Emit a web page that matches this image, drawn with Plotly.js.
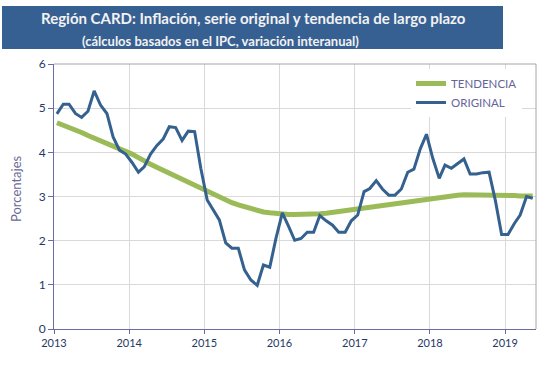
<!DOCTYPE html>
<html>
<head>
<meta charset="utf-8">
<script src="https://cdn.plot.ly/plotly-3.0.1.min.js"></script>
<style>
html,body{margin:0;padding:0;background:#fff;}
#chart{width:558px;height:371px;}
</style>
</head>
<body>
<div id="chart"></div>
<script>
// Monthly data, Jan 2013 .. May 2019
var startYear = 2013;
var original = [
  4.87, 5.09, 5.09, 4.88, 4.79, 4.93, 5.39, 5.07, 4.88, 4.35, 4.05, 3.96,
  3.77, 3.55, 3.67, 3.96, 4.15, 4.30, 4.58, 4.56, 4.27, 4.48, 4.47, 3.64,
  2.92, 2.69, 2.47, 1.95, 1.83, 1.83, 1.34, 1.11, 0.99, 1.45, 1.40, 2.05,
  2.63, 2.32, 2.01, 2.05, 2.19, 2.19, 2.57, 2.45, 2.35, 2.19, 2.19, 2.45,
  2.58, 3.11, 3.18, 3.36, 3.17, 3.03, 3.03, 3.17, 3.55, 3.62, 4.08, 4.41,
  3.86, 3.41, 3.71, 3.64, 3.75, 3.85, 3.51, 3.51, 3.54, 3.55, 2.90, 2.14,
  2.14, 2.39, 2.58, 3.00, 2.96
];
var tendencia = [
  4.67, 4.62, 4.57, 4.52, 4.45, 4.38, 4.32, 4.27, 4.22, 4.15, 4.09, 4.02,
  3.96, 3.88, 3.80, 3.73, 3.66, 3.59, 3.52, 3.45, 3.38, 3.31, 3.24, 3.17,
  3.10, 3.03, 2.97, 2.91, 2.86, 2.81, 2.77, 2.72, 2.68, 2.65, 2.63, 2.61,
  2.60, 2.59, 2.59, 2.59, 2.59, 2.60, 2.61, 2.62, 2.64, 2.66, 2.68, 2.70,
  2.72, 2.74, 2.76, 2.78, 2.80, 2.82, 2.84, 2.86, 2.88, 2.90, 2.92, 2.95,
  2.97, 2.99, 3.01, 3.02, 3.03, 3.04, 3.04, 3.04, 3.04, 3.04, 3.04, 3.04,
  3.04, 3.02, 3.01, 3.01, 3.01
];
var yearTicks = ['2013','2014','2015','2016','2017','2018','2019'];
var titleText = 'Región CARD: Inflación, serie original y tendencia de largo plazo';
var subtitleText = '(cálculos basados en el IPC, variación interanual)';

var months = original.map(function(_, i){
  var y = startYear + Math.floor(i/12);
  var m = (i % 12) + 1;
  return y + '-' + (m < 10 ? '0' + m : m) + '-15';
});
var tickVals = yearTicks.map(function(y){ return y + '-01-01'; });

var L = 54, R = 22, T = 64, B = 42, W = 558, H = 371;
var pw = W - L - R, ph = H - T - B;
function px(x){ return (x - L) / pw; }
function py(y){ return (H - B - y) / ph; }

var traces = [
  {x: months, y: tendencia, name: 'TENDENCIA', type: 'scatter', mode: 'lines',
   line: {color: '#9BBB59', width: 5}},
  {x: months, y: original, name: 'ORIGINAL', type: 'scatter', mode: 'lines',
   line: {color: '#35618F', width: 3}}
];

var layout = {
  width: W, height: H,
  margin: {l: L, r: R, t: T, b: B},
  paper_bgcolor: '#ffffff', plot_bgcolor: '#ffffff',
  font: {family: 'Lato, sans-serif', size: 11, color: '#1F3864'},
  showlegend: true,
  legend: {
    x: px(411), y: py(69), xanchor: 'left', yanchor: 'top',
    bgcolor: '#ffffff', borderwidth: 0,
    font: {family: 'Lato, sans-serif', size: 11.5, color: '#65659A'},
    tracegroupgap: 0, itemwidth: 30
  },
  xaxis: {
    type: 'date', range: ['2013-01-01', '2019-05-31'],
    tickvals: tickVals, ticktext: yearTicks,
    showgrid: true, gridcolor: '#D9D9D9', gridwidth: 1,
    showline: true, linecolor: '#6B6BA3', linewidth: 1,
    ticks: 'outside', ticklen: 4, tickcolor: '#6B6BA3',
    tickfont: {family: 'Lato, sans-serif', size: 11, color: '#1F3864'},
    zeroline: false, fixedrange: true
  },
  yaxis: {
    range: [0, 6], dtick: 1, tick0: 0,
    showgrid: true, gridcolor: '#D9D9D9', gridwidth: 1,
    showline: true, linecolor: '#6B6BA3', linewidth: 1,
    ticks: 'outside', ticklen: 5, tickcolor: '#6B6BA3',
    tickfont: {family: 'Lato, sans-serif', size: 12, color: '#1F3864'},
    zeroline: false, fixedrange: true
  },
  shapes: [
    {type: 'rect', xref: 'paper', yref: 'paper', x0: px(2), x1: px(503), y0: py(49), y1: py(6),
     fillcolor: '#376092', line: {width: 0}, layer: 'above'},
    {type: 'line', xref: 'paper', yref: 'paper', x0: 0, x1: 1, y0: 1, y1: 1,
     line: {color: '#A6A6A6', width: 1}},
    {type: 'line', xref: 'paper', yref: 'paper', x0: 1, x1: 1, y0: 0, y1: 1,
     line: {color: '#A6A6A6', width: 1}}
  ],
  annotations: [
    {text: titleText, xref: 'paper', yref: 'paper', x: px(253), y: py(18),
     xanchor: 'center', yanchor: 'middle', showarrow: false,
     font: {family: 'Lato, sans-serif', size: 15, color: '#F2F2F2', weight: 'bold'}},
    {text: subtitleText, xref: 'paper', yref: 'paper', x: px(220), y: py(41),
     xanchor: 'center', yanchor: 'middle', showarrow: false,
     font: {family: 'Lato, sans-serif', size: 13, color: '#F2F2F2', weight: 'bold'}},
    {text: 'Porcentajes', xref: 'paper', yref: 'paper', x: px(16), y: py(189),
     xanchor: 'center', yanchor: 'middle', showarrow: false, textangle: -90,
     font: {family: 'Lato, sans-serif', size: 13, color: '#6A6A9A'}}
  ]
};

Plotly.newPlot('chart', traces, layout, {displayModeBar: false, staticPlot: true});
</script>
</body>
</html>
